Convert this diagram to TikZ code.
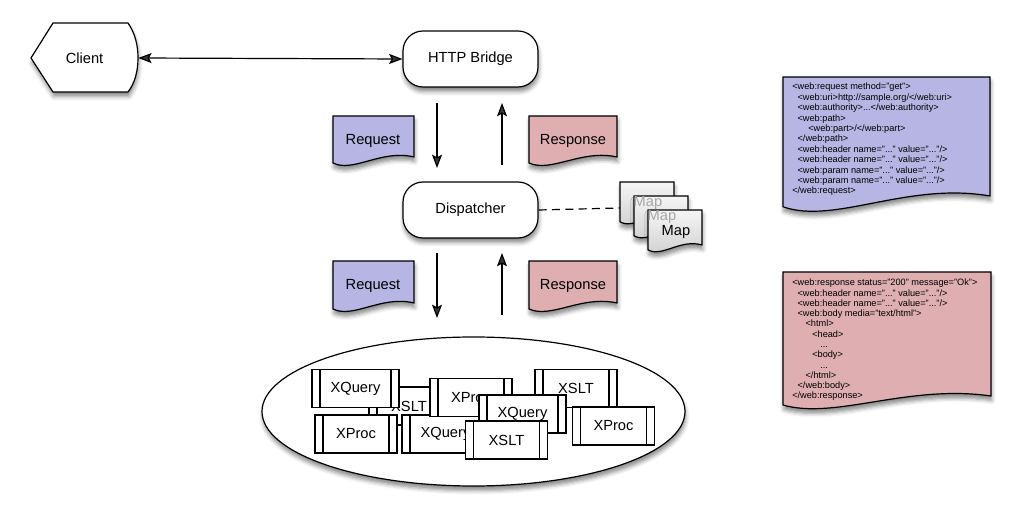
\documentclass[tikz,border=0pt]{standalone}
\usepackage{fontspec}
\setmainfont{Liberation Sans}
\usetikzlibrary{shapes.geometric,arrows.meta,shadows.blur}
\definecolor{reqc}{HTML}{B6B5E3}
\definecolor{resc}{HTML}{DEAEB0}
\tikzset{
  shp/.style={line width=0.9pt, blur shadow={shadow xshift=0.6pt, shadow yshift=-3.5pt, shadow blur radius=3pt, shadow opacity=45}},
  lbl/.style={font=\fontsize{11}{13}\selectfont, inner sep=0pt},
  pill/.style={shp, lbl, draw, fill=white, rounded corners=15pt, minimum width=101.25pt, minimum height=42pt},
  tip/.tip={Stealth[length=10pt,width=7.5pt,inset=2pt]},
  arr/.style={line width=0.9pt, -tip},
  dbl/.style={line width=0.9pt, tip-tip},
  proc/.style={lbl, draw, fill=white, line width=0.9pt, minimum width=61.5pt, minimum height=28.5pt,
    path picture={\draw[line width=0.8pt] ([xshift=6pt]path picture bounding box.north west) -- ([xshift=6pt]path picture bounding box.south west);
                  \draw[line width=0.8pt] ([xshift=-6pt]path picture bounding box.north east) -- ([xshift=-6pt]path picture bounding box.south east);}},
  mapdoc/.style={shp, draw, top color=gray!8, bottom color=gray!38},
  xml/.style={font=\fontsize{6.9}{7.8}\selectfont, align=left, inner sep=0pt, anchor=north west},
}
% #1 style, #2 x1, #3 y1, #4 x2, #5 y2 (lowest point), #6 wave amplitude
\newcommand\docshape[6]{%
  \path[#1] (#2,#3) -- (#4,#3) -- ({#4},{#5-#6})
    .. controls ({#2+0.6*(#4-#2)},{#5-1.8*#6}) and ({#2+0.25*(#4-#2)},{#5+0.6*#6}) .. ({#2},{#5-0.4*#6}) -- cycle;}
\newcommand\ind[1]{\hspace*{#1}}
\begin{document}
\begin{tikzpicture}[x=0.75pt,y=-0.75pt]
\useasboundingbox (0,0) rectangle (1020,523);

% Client
\path[shp, draw, fill=white] (31,58) -- (53,23) -- (128,23)
   .. controls (135,33) and (138,45) .. (138,58)
   .. controls (138,71) and (135,83) .. (128,92) -- (53,92) -- cycle;
\node[lbl, minimum width=80.25pt, minimum height=51pt] (client) at (84.5,58) {Client};

% HTTP Bridge and Dispatcher
\node[pill] (bridge) at (470.5,59) {HTTP Bridge};
\node[pill] (disp) at (470.5,210) {Dispatcher};

\draw[dbl] (client.east) -- (bridge.west);

% arrows between bridge and dispatcher
\coordinate (a1s) at (437,103); \coordinate (a1e) at (437,168);
\coordinate (a2s) at (502,165); \coordinate (a2e) at (502,103);
\draw[arr] (a1s) -- (a1e);
\draw[arr] (a2s) -- (a2e);
\coordinate (a3s) at (437,253); \coordinate (a3e) at (437,318);
\coordinate (a4s) at (502,315); \coordinate (a4e) at (502,253);
\draw[arr] (a3s) -- (a3e);
\draw[arr] (a4s) -- (a4e);

% small documents
\docshape{shp,draw,fill=reqc}{333}{116}{414}{167}{10}
\node[lbl] (req1) at (373,141) {Request};
\docshape{shp,draw,fill=resc}{529}{116}{617}{167}{10}
\node[lbl] (res1) at (573,141) {Response};
\docshape{shp,draw,fill=reqc}{333}{261}{414}{313}{10}
\node[lbl] (req2) at (373,286) {Request};
\docshape{shp,draw,fill=resc}{529}{261}{617}{313}{10}
\node[lbl] (res2) at (573,286) {Response};

% Map documents
\coordinate (map1) at (620,208);
\draw[line width=0.9pt, dash pattern=on 6pt off 4pt] (disp.east) -- (map1);
\docshape{mapdoc}{620}{182}{674}{225}{8}
\docshape{mapdoc}{634}{196}{688}{239}{8}
\docshape{mapdoc}{648}{210}{702}{253}{8}
\node[lbl, text=gray!70] (m1) at (648,203) {Map};
\node[lbl, text=gray!70] (m2) at (662,217) {Map};
\node[lbl] (m3) at (676,232) {Map};

% ellipse with processes
\node[shp, draw, fill=white, ellipse, minimum width=317.25pt, minimum height=111.75pt] (pool) at (473.5,411.5) {};
\node[proc, minimum width=60pt] (b2) at (409,406) {XSLT};
\node[proc, minimum width=65.25pt] (b1) at (355.5,388.5) {XQuery};
\node[proc] (b6) at (356,434) {XProc};
\node[proc, minimum width=65.25pt] (b7) at (445.5,434) {XQuery};
\node[proc] (b3) at (471,397.5) {XProc};
\node[proc] (b4) at (576,388.5) {XSLT};
\node[proc] (b9) at (613.5,426) {XProc};
\node[proc, minimum width=65.25pt] (b5) at (522.5,414) {XQuery};
\node[proc] (b8) at (506.5,440) {XSLT};

% request XML document
\docshape{shp,draw,fill=reqc}{783}{77}{990}{214}{18}
\node[xml] (reqxml) at (792,83) {%
<web:request method="get">\\
\ind{4pt}<web:uri>http://sample.org/</web:uri>\\
\ind{4pt}<web:authority>...</web:authority>\\
\ind{4pt}<web:path>\\
\ind{12pt}<web:part>/</web:part>\\
\ind{4pt}</web:path>\\
\ind{4pt}<web:header name="..." value="..."/>\\
\ind{4pt}<web:header name="..." value="..."/>\\
\ind{4pt}<web:param name="..." value="..."/>\\
\ind{4pt}<web:param name="..." value="..."/>\\
</web:request>};

% response XML document
\docshape{shp,draw,fill=resc}{783}{272}{991}{411}{15}
\node[xml, font=\fontsize{6.9}{7.7}\selectfont] (resxml) at (792,279) {%
<web:response status="200" message="Ok">\\
\ind{4pt}<web:header name="..." value="..."/>\\
\ind{4pt}<web:header name="..." value="..."/>\\
\ind{4pt}<web:body media="text/html">\\
\ind{10pt}<html>\\
\ind{15pt}<head>\\
\ind{21pt}...\\
\ind{15pt}<body>\\
\ind{21pt}...\\
\ind{10pt}</html>\\
\ind{4pt}</web:body>\\
</web:response>};
\end{tikzpicture}
\end{document}
